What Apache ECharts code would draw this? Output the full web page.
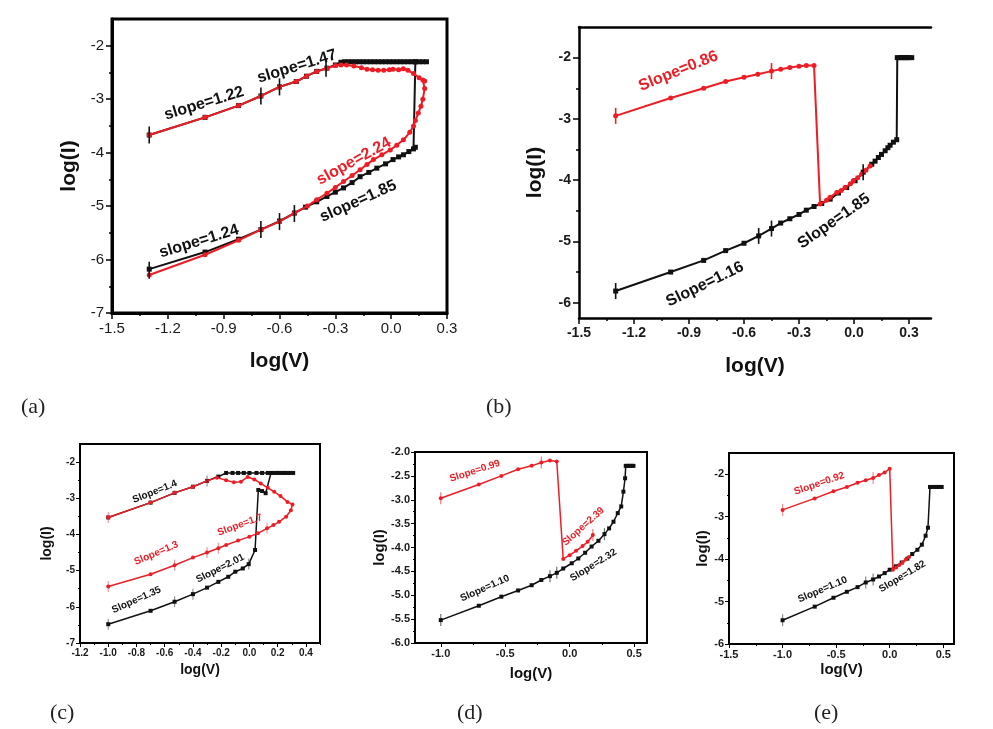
<!DOCTYPE html>
<html><head><meta charset="utf-8">
<script src="https://cdn.jsdelivr.net/npm/echarts@6/dist/echarts.min.js"></script>
<style>html,body{margin:0;padding:0;background:#fff}#c{width:993px;height:729px}</style>
</head><body><div id="c"></div>
<script>
// ---------- data: panel (a) ----------
const aBlack=[[-1.3,-6.18],[-1.0,-5.86],[-0.82,-5.62],[-0.7,-5.44],[-0.6,-5.28],[-0.52,-5.13],[-0.46,-5.02],[-0.4,-4.92],[-0.345,-4.82],[-0.3,-4.74],[-0.256,-4.66],[-0.21,-4.56],[-0.167,-4.45],[-0.12,-4.37],[-0.077,-4.29],[-0.03,-4.21],[0.01,-4.13],[0.04,-4.08],[0.066,-4.04],[0.095,-3.98],[0.12,-3.93],[0.13,-3.9],[0.13,-2.3],[0.19,-2.3],[0.17,-2.3],[0.15,-2.3],[0.13,-2.3],[0.11,-2.3],[0.09,-2.3],[0.07,-2.3],[0.05,-2.3],[0.03,-2.3],[0.01,-2.3],[-0.01,-2.3],[-0.03,-2.3],[-0.05,-2.3],[-0.07,-2.3],[-0.09,-2.3],[-0.11,-2.3],[-0.13,-2.3],[-0.15,-2.3],[-0.17,-2.3],[-0.19,-2.3],[-0.21,-2.3],[-0.23,-2.3],[-0.25,-2.3],[-0.27,-2.31],[-0.3,-2.36],[-0.345,-2.42],[-0.4,-2.48],[-0.455,-2.57],[-0.51,-2.67],[-0.6,-2.77],[-0.7,-2.94],[-0.82,-3.12],[-1.0,-3.34],[-1.3,-3.67]];
const aRed=[[-1.3,-3.67],[-1.0,-3.34],[-0.82,-3.12],[-0.7,-2.94],[-0.6,-2.77],[-0.51,-2.67],[-0.455,-2.57],[-0.4,-2.48],[-0.345,-2.42],[-0.3,-2.37],[-0.27,-2.36],[-0.24,-2.36],[-0.2,-2.38],[-0.16,-2.41],[-0.13,-2.44],[-0.1,-2.45],[-0.07,-2.46],[-0.04,-2.46],[-0.01,-2.45],[0.01,-2.44],[0.04,-2.45],[0.065,-2.43],[0.09,-2.46],[0.12,-2.52],[0.15,-2.6],[0.17,-2.64],[0.18,-2.66],[0.18,-2.8],[0.17,-3.0],[0.16,-3.13],[0.146,-3.26],[0.13,-3.4],[0.12,-3.5],[0.1,-3.62],[0.066,-3.76],[0.03,-3.86],[-0.005,-3.95],[-0.05,-4.04],[-0.095,-4.13],[-0.13,-4.22],[-0.167,-4.32],[-0.21,-4.43],[-0.256,-4.54],[-0.3,-4.65],[-0.345,-4.76],[-0.4,-4.88],[-0.45,-5.0],[-0.52,-5.13],[-0.6,-5.29],[-0.7,-5.44],[-0.82,-5.64],[-1.0,-5.91],[-1.3,-6.29]];
const aMarksBlack=[[-1.3,-3.67],[-0.7,-2.94],[-0.6,-2.77],[-0.35,-2.42],[-1.3,-6.2],[-0.7,-5.44],[-0.6,-5.29],[-0.52,-5.14]];
const aMarksRed=[];
const aNotes=['slope=1.22','slope=1.47','slope=2.24','slope=1.85','slope=1.24'];
const xTicksA=[-1.5,-1.2,-0.9,-0.6,-0.3,0,0.3], xMinorA=[-1.35,-1.05,-0.75,-0.45,-0.15,0.15];
const yTicksA=[-7,-6,-5,-4,-3,-2], yMinorA=[-6.5,-5.5,-4.5,-3.5,-2.5];

// ---------- data: panel (b) ----------
const bBlack=[[-1.3,-5.81],[-1.0,-5.5],[-0.82,-5.31],[-0.7,-5.15],[-0.6,-5.03],[-0.52,-4.91],[-0.45,-4.79],[-0.4,-4.7],[-0.35,-4.63],[-0.3,-4.56],[-0.26,-4.49],[-0.218,-4.43],[-0.176,-4.38],[-0.13,-4.31],[-0.085,-4.21],[-0.04,-4.12],[0.006,-4.01],[0.05,-3.87],[0.097,-3.74],[0.115,-3.69],[0.133,-3.63],[0.15,-3.58],[0.17,-3.52],[0.185,-3.47],[0.197,-3.43],[0.215,-3.38],[0.233,-3.34],[0.236,-2.0],[0.25,-2.0],[0.26,-2.0],[0.27,-2.0],[0.28,-2.0],[0.29,-2.0],[0.3,-2.0],[0.315,-2.0]];
const bRed=[[-1.3,-2.95],[-1.0,-2.66],[-0.82,-2.5],[-0.7,-2.39],[-0.6,-2.32],[-0.525,-2.27],[-0.45,-2.22],[-0.4,-2.19],[-0.35,-2.16],[-0.3,-2.14],[-0.26,-2.13],[-0.218,-2.13],[-0.185,-4.39],[-0.15,-4.33],[-0.13,-4.28],[-0.094,-4.2],[-0.07,-4.17],[-0.049,-4.12],[-0.02,-4.06],[-0.004,-4.01],[0.02,-3.96],[0.042,-3.9],[0.065,-3.84],[0.088,-3.77]];
const bMarksBlack=[[-1.3,-5.81],[-0.52,-4.91],[-0.45,-4.79],[0.05,-3.87]];
const bMarksRed=[[-1.3,-2.95],[-0.45,-2.22]];
const bNotes=['Slope=0.86','Slope=1.16','Slope=1.85'];
const xTicksB=[-1.5,-1.2,-0.9,-0.6,-0.3,0,0.3], xMinorB=[-1.35,-1.05,-0.75,-0.45,-0.15,0.15];
const yTicksB=[-6,-5,-4,-3,-2], yMinorB=[-5.5,-4.5,-3.5,-2.5];

// ---------- data: panel (c) ----------
const cBlack=[[-1.0,-6.48],[-0.7,-6.11],[-0.53,-5.86],[-0.4,-5.65],[-0.3,-5.47],[-0.22,-5.31],[-0.15,-5.17],[-0.1,-5.03],[-0.047,-4.94],[-0.005,-4.82],[0.04,-4.43],[0.063,-2.77],[0.09,-2.8],[0.115,-2.86],[0.153,-2.3],[0.2,-2.3],[0.25,-2.3],[0.31,-2.3],[0.29,-2.3],[0.27,-2.3],[0.25,-2.3],[0.23,-2.3],[0.21,-2.3],[0.19,-2.3],[0.17,-2.3],[0.13,-2.3],[0.09,-2.3],[0.05,-2.3],[0.0,-2.3],[-0.04,-2.3],[-0.08,-2.3],[-0.12,-2.3],[-0.165,-2.3],[-0.22,-2.4],[-0.3,-2.52],[-0.4,-2.68],[-0.53,-2.85],[-0.7,-3.12],[-1.0,-3.53]];
const cRed=[[-1.0,-3.53],[-0.7,-3.12],[-0.53,-2.85],[-0.4,-2.68],[-0.3,-2.52],[-0.23,-2.43],[-0.165,-2.5],[-0.11,-2.56],[-0.06,-2.54],[-0.012,-2.41],[0.035,-2.48],[0.08,-2.59],[0.13,-2.71],[0.176,-2.82],[0.22,-2.94],[0.27,-3.1],[0.305,-3.17],[0.294,-3.33],[0.26,-3.51],[0.21,-3.65],[0.17,-3.74],[0.125,-3.83],[0.06,-3.97],[0.0,-4.06],[-0.08,-4.17],[-0.165,-4.29],[-0.22,-4.38],[-0.3,-4.5],[-0.4,-4.64],[-0.53,-4.85],[-0.7,-5.1],[-1.0,-5.44]];
const cMarksBlack=[[-1.0,-6.48],[-0.53,-5.86],[-0.4,-5.65],[-0.005,-4.82],[-0.3,-2.52]];
const cMarksRed=[[-1.0,-3.53],[-1.0,-5.44],[-0.53,-4.85],[-0.3,-4.5],[-0.22,-4.38],[0.125,-3.83]];
const cNotes=['Slope=1.4','Slope=1.7','Slope=1.3','Slope=2.01','Slope=1.35'];
const xTicksC=[-1.2,-1.0,-0.8,-0.6,-0.4,-0.2,0,0.2,0.4], xMinorC=[-1.1,-0.9,-0.7,-0.5,-0.3,-0.1,0.1,0.3,0.5];
const yTicksC=[-7,-6,-5,-4,-3,-2], yMinorC=[-6.5,-5.5,-4.5,-3.5,-2.5];

// ---------- data: panel (d) ----------
const dBlack=[[-1.0,-5.52],[-0.705,-5.22],[-0.53,-5.03],[-0.4,-4.9],[-0.295,-4.79],[-0.22,-4.68],[-0.153,-4.6],[-0.1,-4.53],[-0.05,-4.44],[0.016,-4.33],[0.067,-4.23],[0.12,-4.11],[0.17,-3.98],[0.223,-3.86],[0.27,-3.72],[0.306,-3.6],[0.34,-3.46],[0.373,-3.28],[0.4,-3.14],[0.417,-2.83],[0.43,-2.55],[0.435,-2.29],[0.45,-2.29],[0.465,-2.29],[0.48,-2.29],[0.495,-2.29]];
const dRed=[[-1.0,-2.97],[-0.705,-2.68],[-0.53,-2.5],[-0.4,-2.36],[-0.295,-2.29],[-0.22,-2.22],[-0.153,-2.18],[-0.1,-2.2],[-0.05,-4.24],[0.0,-4.16],[0.05,-4.07],[0.1,-3.97],[0.14,-3.88],[0.18,-3.74]];
const dMarksBlack=[[-1.0,-5.52],[-0.153,-4.6],[-0.1,-4.53],[0.27,-3.72]];
const dMarksRed=[[-1.0,-2.97],[-0.22,-2.22],[0.18,-3.74]];
const dNotes=['Slope=0.99','Slope=2.39','Slope=1.10','Slope=2.32'];
const xTicksD=[-1.0,-0.5,0,0.5], xMinorD=[-0.75,-0.25,0.25];
const yTicksD=[-6,-5.5,-5,-4.5,-4,-3.5,-3,-2.5,-2], yMinorD=[-5.75,-5.25,-4.75,-4.25,-3.75,-3.25,-2.75,-2.25];

// ---------- data: panel (e) ----------
const eBlack=[[-1.0,-5.44],[-0.7,-5.12],[-0.525,-4.91],[-0.4,-4.77],[-0.3,-4.66],[-0.224,-4.55],[-0.155,-4.48],[-0.1,-4.41],[-0.047,-4.33],[0.0,-4.25],[0.056,-4.17],[0.112,-4.08],[0.165,-3.99],[0.21,-3.88],[0.258,-3.78],[0.3,-3.66],[0.335,-3.45],[0.357,-3.26],[0.376,-2.3],[0.4,-2.3],[0.42,-2.3],[0.44,-2.3],[0.46,-2.3],[0.485,-2.3]];
const eRed=[[-1.0,-2.84],[-0.7,-2.57],[-0.525,-2.4],[-0.4,-2.3],[-0.3,-2.2],[-0.224,-2.14],[-0.155,-2.09],[-0.1,-2.02],[-0.047,-1.96],[0.0,-1.87],[0.03,-4.25],[0.06,-4.2],[0.09,-4.14],[0.12,-4.08],[0.15,-4.01],[0.18,-3.95]];
const eMarksBlack=[[-1.0,-5.44],[-0.224,-4.55],[-0.155,-4.48]];
const eMarksRed=[[-1.0,-2.84],[-0.155,-2.09]];
const eNotes=['Slope=0.92','Slope=1.10','Slope=1.82'];
const xTicksE=[-1.5,-1.0,-0.5,0,0.5], xMinorE=[-1.25,-0.75,-0.25,0.25];
const yTicksE=[-6,-5,-4,-3,-2], yMinorE=[-5.5,-4.5,-3.5,-2.5];

const panelLetters=['(a)','(b)','(c)','(d)','(e)'];

// ---------- build ----------
const RED='#ee1c24', BLK='#111111';
const FONT='"Liberation Sans", Arial, sans-serif';
const option={animation:false,backgroundColor:'#ffffff',grid:[],xAxis:[],yAxis:[],series:[],graphic:[]};

function addPanel(p){
  const gi=option.grid.length;
  option.grid.push({left:p.rect[0],top:p.rect[1],width:p.rect[2],height:p.rect[3],
    show:p.border,borderColor:'#000',borderWidth:p.lw,backgroundColor:'rgba(0,0,0,0)',
    containLabel:false,outerBoundsMode:'none'});
  const lab={fontSize:p.fs,fontWeight:p.fw,color:'#1a1a1a',fontFamily:FONT};
  const name={fontSize:p.ns,fontWeight:'bold',color:'#111',fontFamily:FONT};
  const xi=option.xAxis.length;
  option.xAxis.push({type:'value',gridIndex:gi,min:p.x[0],max:p.x[1],position:'bottom',
    axisLine:{show:true,onZero:false,lineStyle:{color:'#000',width:p.lw}},
    axisTick:{show:true,customValues:p.xt,length:p.tl,lineStyle:{color:'#000',width:p.tw}},
    axisLabel:Object.assign({show:true,customValues:p.xt,margin:p.lm,formatter:v=>(+v).toFixed(p.xd)},lab),
    splitLine:{show:false},
    name:'log(V)',nameLocation:'middle',nameGap:p.xg,nameTextStyle:name});
  option.xAxis.push({type:'value',gridIndex:gi,min:p.x[0],max:p.x[1],position:'bottom',
    axisLine:{show:false,onZero:false},
    axisTick:{show:true,customValues:p.xm,length:p.tl2,lineStyle:{color:'#000',width:p.tw}},
    axisLabel:{show:false},splitLine:{show:false}});
  if(p.topLine){
    option.xAxis.push({type:'value',gridIndex:gi,min:p.x[0],max:p.x[1],position:'top',
      axisLine:{show:true,onZero:false,lineStyle:{color:'#000',width:p.lw}},
      axisTick:{show:false},axisLabel:{show:false},splitLine:{show:false}});
  }
  const yi=option.yAxis.length;
  option.yAxis.push({type:'value',gridIndex:gi,min:p.y[0],max:p.y[1],position:'left',
    axisLine:{show:true,onZero:false,lineStyle:{color:'#000',width:p.lw}},
    axisTick:{show:true,customValues:p.yt,length:p.tl,lineStyle:{color:'#000',width:p.tw}},
    axisLabel:Object.assign({show:true,customValues:p.yt,margin:p.lm,formatter:v=>(+v).toFixed(p.yd)},lab),
    splitLine:{show:false},
    name:'log(I)',nameLocation:'middle',nameGap:p.yg,nameTextStyle:name});
  option.yAxis.push({type:'value',gridIndex:gi,min:p.y[0],max:p.y[1],position:'left',
    axisLine:{show:false,onZero:false},
    axisTick:{show:true,customValues:p.ym,length:p.tl2,lineStyle:{color:'#000',width:p.tw}},
    axisLabel:{show:false},splitLine:{show:false}});

  function lineSeries(data,color,sym,size,z){
    option.series.push({type:'line',xAxisIndex:xi,yAxisIndex:yi,data:data,symbol:sym,symbolSize:size,
      showSymbol:true,lineStyle:{color:color,width:p.lineW},itemStyle:{color:color,opacity:1},z:z,clip:true,
      emphasis:{disabled:true}});
  }
  lineSeries(p.black,BLK,'rect',p.ms,2);
  lineSeries(p.red,RED,'circle',p.ms,3);
  function marks(data,color){
    if(!data.length) return;
    option.series.push({type:'scatter',xAxisIndex:xi,yAxisIndex:yi,data:data,symbol:'rect',
      symbolSize:[p.markW,p.markL],itemStyle:{color:color,opacity:p.markOp},z:4,emphasis:{disabled:true}});
  }
  marks(p.marksBlack,BLK);
  marks(p.marksRed,RED);
  option.series.push({type:'scatter',xAxisIndex:xi,yAxisIndex:yi,symbolSize:1,z:6,
    itemStyle:{color:'rgba(0,0,0,0)',opacity:1},emphasis:{disabled:true},
    data:p.notes.map(n=>({value:[n.x,n.y],label:{show:true,position:'inside',formatter:n.t,rotate:n.r,
      color:n.c==='r'?RED:'#111',opacity:1,textBorderWidth:0,fontSize:p.nfs,fontWeight:'bold',fontFamily:FONT}}))});
}

function note(t,x,y,r,c){return {t:t,x:x,y:y,r:r,c:c};}

addPanel({rect:[112,19,335,294],border:true,lw:3,x:[-1.5,0.3],y:[-7,-1.5],
  xt:xTicksA,xm:xMinorA,yt:yTicksA,ym:yMinorA,xd:1,yd:0,tl:6,tl2:3,tw:1.5,
  fs:15,fw:'normal',lm:8,ns:21,xg:38,yg:32,lineW:2,ms:5,markW:1.6,markL:17,markOp:1,
  black:aBlack,red:aRed,marksBlack:aMarksBlack,marksRed:aMarksRed,nfs:16,
  notes:[note(aNotes[0],-1.005,-3.08,17,'k'),note(aNotes[1],-0.506,-2.39,17,'k'),
         note(aNotes[2],-0.2,-4.16,29,'r'),note(aNotes[3],-0.177,-4.91,24,'k'),
         note(aNotes[4],-1.032,-5.66,17,'k')]});

addPanel({rect:[579,27,352,291],border:false,topLine:true,lw:2.5,x:[-1.5,0.42],y:[-6.25,-1.5],
  xt:xTicksB,xm:xMinorB,yt:yTicksB,ym:yMinorB,xd:1,yd:0,tl:6,tl2:3,tw:1.5,
  fs:14,fw:'bold',lm:8,ns:21,xg:38,yg:33,lineW:2,ms:5,markW:1.6,markL:16,markOp:1,
  black:bBlack,red:bRed,marksBlack:bMarksBlack,marksRed:bMarksRed,nfs:16,
  notes:[note(bNotes[0],-0.958,-2.22,22,'r'),note(bNotes[1],-0.813,-5.70,26,'k'),
         note(bNotes[2],-0.109,-4.67,35,'k')]});

addPanel({rect:[80,444,240,199],border:true,lw:2,x:[-1.2,0.5],y:[-7,-1.5],
  xt:xTicksC,xm:xMinorC,yt:yTicksC,ym:yMinorC,xd:1,yd:0,tl:4,tl2:2,tw:1,
  fs:10,fw:'bold',lm:5,ns:14,xg:20,yg:26,lineW:1.5,ms:4,markW:1.2,markL:11,markOp:0.45,
  black:cBlack,red:cRed,marksBlack:cMarksBlack,marksRed:cMarksRed,nfs:10,
  notes:[note(cNotes[0],-0.67,-2.82,22,'k'),note(cNotes[1],-0.067,-3.74,20,'r'),
         note(cNotes[2],-0.66,-4.52,23,'r'),note(cNotes[3],-0.207,-4.94,27,'k'),
         note(cNotes[4],-0.80,-5.81,24,'k')]});

addPanel({rect:[415,452,232,191],border:true,lw:2,x:[-1.2,0.6],y:[-6,-2],
  xt:xTicksD,xm:xMinorD,yt:yTicksD,ym:yMinorD,xd:1,yd:1,tl:4,tl2:2,tw:1,
  fs:11,fw:'bold',lm:5,ns:15,xg:23,yg:24,lineW:1.5,ms:4,markW:1.2,markL:12,markOp:0.6,
  black:dBlack,red:dRed,marksBlack:dMarksBlack,marksRed:dMarksRed,nfs:10,
  notes:[note(dNotes[0],-0.736,-2.40,18,'r'),note(dNotes[1],0.106,-3.56,42,'r'),
         note(dNotes[2],-0.658,-4.855,24,'k'),note(dNotes[3],0.184,-4.37,32,'k')]});

addPanel({rect:[729,453,225,191],border:true,lw:2,x:[-1.5,0.6],y:[-6,-1.5],
  xt:xTicksE,xm:xMinorE,yt:yTicksE,ym:yMinorE,xd:1,yd:0,tl:4,tl2:2,tw:1,
  fs:11,fw:'bold',lm:5,ns:15,xg:18,yg:17,lineW:1.5,ms:4,markW:1.2,markL:12,markOp:0.5,
  black:eBlack,red:eRed,marksBlack:eMarksBlack,marksRed:eMarksRed,nfs:10,
  notes:[note(eNotes[0],-0.658,-2.22,19,'r'),note(eNotes[1],-0.627,-4.72,23,'k'),
         note(eNotes[2],0.118,-4.41,31,'k')]});

const letterPos=[[21,396],[486,396],[50,702],[457,702],[814,702]];
panelLetters.forEach((t,i)=>option.graphic.push({type:'text',left:letterPos[i][0],top:letterPos[i][1],
  style:{text:t,fontSize:22,fontFamily:'"Liberation Serif","DejaVu Serif",serif',fill:'#222'}}));

const chart=echarts.init(document.getElementById('c'),null,{renderer:'canvas'});
chart.setOption(option);
</script></body></html>
